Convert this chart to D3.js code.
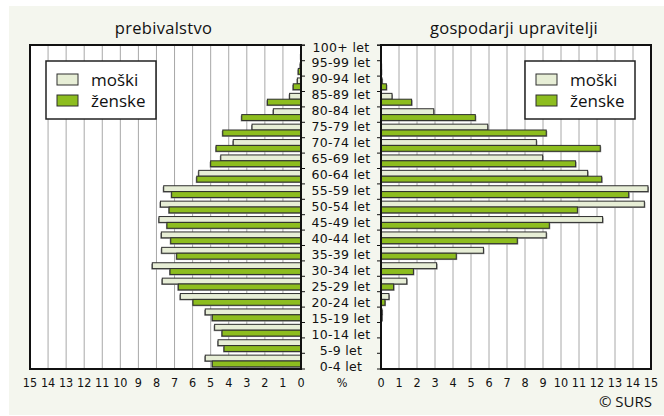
<!DOCTYPE html>
<html>
<head>
<meta charset="utf-8">
<script src="https://cdn.jsdelivr.net/npm/d3@7"></script>
<style>
  html, body { margin: 0; padding: 0; background: #ffffff; }
  svg { display: block; }
  .ttl { font-family: "Open Sans", "Noto Sans", sans-serif; font-size: 16.5px; letter-spacing: 0.3px; fill: #111; }
  .age { font-family: "DejaVu Sans", sans-serif; font-size: 12.5px; letter-spacing: 0.3px; fill: #111; }
  .tick-lbl { font-family: "Liberation Sans Narrow", "DejaVu Sans Condensed", sans-serif; font-stretch: condensed; font-size: 12.5px; fill: #111; }
  .leg { font-family: "Open Sans", "Noto Sans", sans-serif; font-size: 17px; fill: #111; }
  .src { font-family: "Open Sans", "Noto Sans", sans-serif; font-size: 15px; fill: #111; }
</style>
</head>
<body>
<script>
// Age groups, bottom to top
const ageGroups = ["0-4 let", "5-9 let", "10-14 let", "15-19 let", "20-24 let", "25-29 let",
  "30-34 let", "35-39 let", "40-44 let", "45-49 let", "50-54 let", "55-59 let", "60-64 let",
  "65-69 let", "70-74 let", "75-79 let", "80-84 let", "85-89 let", "90-94 let", "95-99 let", "100+ let"];

// Population structure (%)
const popMen   = [5.30, 4.59, 4.78, 5.30, 6.68, 7.68, 8.23, 7.71, 7.73, 7.86, 7.78, 7.60, 5.66, 4.44, 3.75, 2.71, 1.53, 0.63, 0.20, 0.04, 0.00];
const popWomen = [4.91, 4.26, 4.37, 4.91, 5.98, 6.79, 7.25, 6.88, 7.21, 7.42, 7.30, 7.16, 5.77, 5.00, 4.70, 4.33, 3.28, 1.86, 0.43, 0.15, 0.01];

// Farm holders (%)
const holdMen   = [0.00, 0.00, 0.00, 0.06, 0.44, 1.43, 3.09, 5.69, 9.18, 12.31, 14.63, 14.83, 11.48, 8.98, 8.63, 5.93, 2.93, 0.61, 0.06, 0.01, 0.00];
const holdWomen = [0.00, 0.00, 0.00, 0.05, 0.22, 0.70, 1.80, 4.18, 7.57, 9.35, 10.91, 13.76, 12.26, 10.81, 12.18, 9.18, 5.24, 1.70, 0.30, 0.02, 0.00];

const xTicks = d3.range(0, 16);
const seriesNames = ["moški", "ženske"];
const panelTitles = ["prebivalstvo", "gospodarji upravitelji"];

const W = 664, H = 416;
const colMen = "#e7eed6", colWomen = "#8dbd1f";
const plotTop = 45, plotBottom = 369;

const svg = d3.select("body").append("svg").attr("width", W).attr("height", H);

// Page background
svg.append("rect").attr("x", 9).attr("y", 6).attr("width", W - 9).attr("height", H - 7).attr("fill", "#f4f6ee");

const y = d3.scaleBand().domain(ageGroups).range([plotBottom, plotTop]).paddingInner(0.24).paddingOuter(0.14);
const yLabel = d3.scalePoint().domain(ageGroups).range([366, 47]);

const xL = d3.scaleLinear().domain([0, 15]).range([301, 30]);
const xR = d3.scaleLinear().domain([0, 15]).range([381, 651]);

function panel(x, men, women, side) {
  const g = svg.append("g");
  const [r0, r1] = x.range();
  const xa = Math.min(r0, r1), xb = Math.max(r0, r1);
  g.append("rect").attr("x", xa).attr("y", plotTop).attr("width", xb - xa).attr("height", plotBottom - plotTop).attr("fill", "#fff");
  // grid
  g.selectAll("line.grid").data(xTicks.slice(1, -1)).join("line")
    .attr("x1", d => x(d)).attr("x2", d => x(d)).attr("y1", plotTop).attr("y2", plotBottom)
    .attr("stroke", "#a8a8a8").attr("stroke-width", 1);

  const half = y.bandwidth() / 2;
  const rows = ageGroups.map((a, i) => ({ a, m: men[i], w: women[i] }));
  const bar = (sel, key, off, fill) => {
    const data = rows.filter(d => d[key] > 0);
    // shadow
    sel.append("g").selectAll("rect").data(data).join("rect")
      .attr("x", d => Math.min(x(0), x(d[key])) + (side === "L" ? -1 : 1))
      .attr("y", d => y(d.a) + off + 1)
      .attr("width", d => Math.abs(x(d[key]) - x(0)))
      .attr("height", half)
      .attr("fill", "#8a8a8a");
    sel.append("g").selectAll("rect").data(data).join("rect")
      .attr("x", d => Math.min(x(0), x(d[key])))
      .attr("y", d => y(d.a) + off)
      .attr("width", d => Math.abs(x(d[key]) - x(0)))
      .attr("height", half)
      .attr("fill", fill).attr("stroke", "#2e2e2e").attr("stroke-width", 1);
  };
  bar(g, "m", 0, colMen);
  bar(g, "w", half, colWomen);

  // frame
  g.append("rect").attr("x", xa).attr("y", plotTop).attr("width", xb - xa).attr("height", plotBottom - plotTop)
    .attr("fill", "none").attr("stroke", "#111").attr("stroke-width", 2);

  // category axis ticks on the inner edge
  const bounds = ageGroups.map(a => y(a) - y.step() * y.paddingInner() / 2).concat([plotTop, plotBottom]);
  const x0 = x(0);
  const dir = side === "L" ? 1 : -1;
  g.selectAll("line.ct").data(bounds).join("line")
    .attr("x1", x0).attr("x2", x0 + dir * 4).attr("y1", d => d).attr("y2", d => d)
    .attr("stroke", "#111").attr("stroke-width", 1);

  // value axis labels
  g.selectAll("text.tl").data(xTicks).join("text").attr("class", "tick-lbl")
    .attr("x", d => x(d)).attr("y", 387).attr("text-anchor", "middle").text(d => d);
  return g;
}

panel(xL, popMen, popWomen, "L");
panel(xR, holdMen, holdWomen, "R");

// Titles
svg.append("text").attr("class", "ttl").attr("x", (xL(0) + xL(15)) / 2 - 2).attr("y", 34).attr("text-anchor", "middle").text(panelTitles[0]);
svg.append("text").attr("class", "ttl").attr("x", (xR(0) + xR(15)) / 2 - 2).attr("y", 34).attr("text-anchor", "middle").text(panelTitles[1]);

// Age labels
svg.selectAll("text.age").data(ageGroups).join("text").attr("class", "age")
  .attr("x", 341).attr("y", d => yLabel(d)).attr("dy", "0.36em").attr("text-anchor", "middle").text(d => d);

svg.append("text").attr("class", "tick-lbl").attr("x", 342).attr("y", 387).attr("text-anchor", "middle").text("%");

// Legends
function legend(x0, y0, w, h) {
  const g = svg.append("g").attr("transform", `translate(${x0},${y0})`);
  g.append("rect").attr("width", w).attr("height", h).attr("fill", "#fff").attr("stroke", "#222").attr("stroke-width", 1.5);
  const cols = [colMen, colWomen];
  seriesNames.forEach((s, i) => {
    g.append("rect").attr("x", 11).attr("y", 13 + i * 21).attr("width", 21).attr("height", 11)
      .attr("fill", cols[i]).attr("stroke", "#2e2e2e").attr("stroke-width", 1);
    g.append("text").attr("class", "leg").attr("x", 45).attr("y", 19 + i * 21).attr("dy", "0.35em").text(s);
  });
}
legend(46, 61, 110, 58);
legend(525, 61, 110, 58);

svg.append("text").attr("class", "src").attr("x", 652).attr("y", 407).attr("text-anchor", "end").text("© SURS");
</script>
</body>
</html>
